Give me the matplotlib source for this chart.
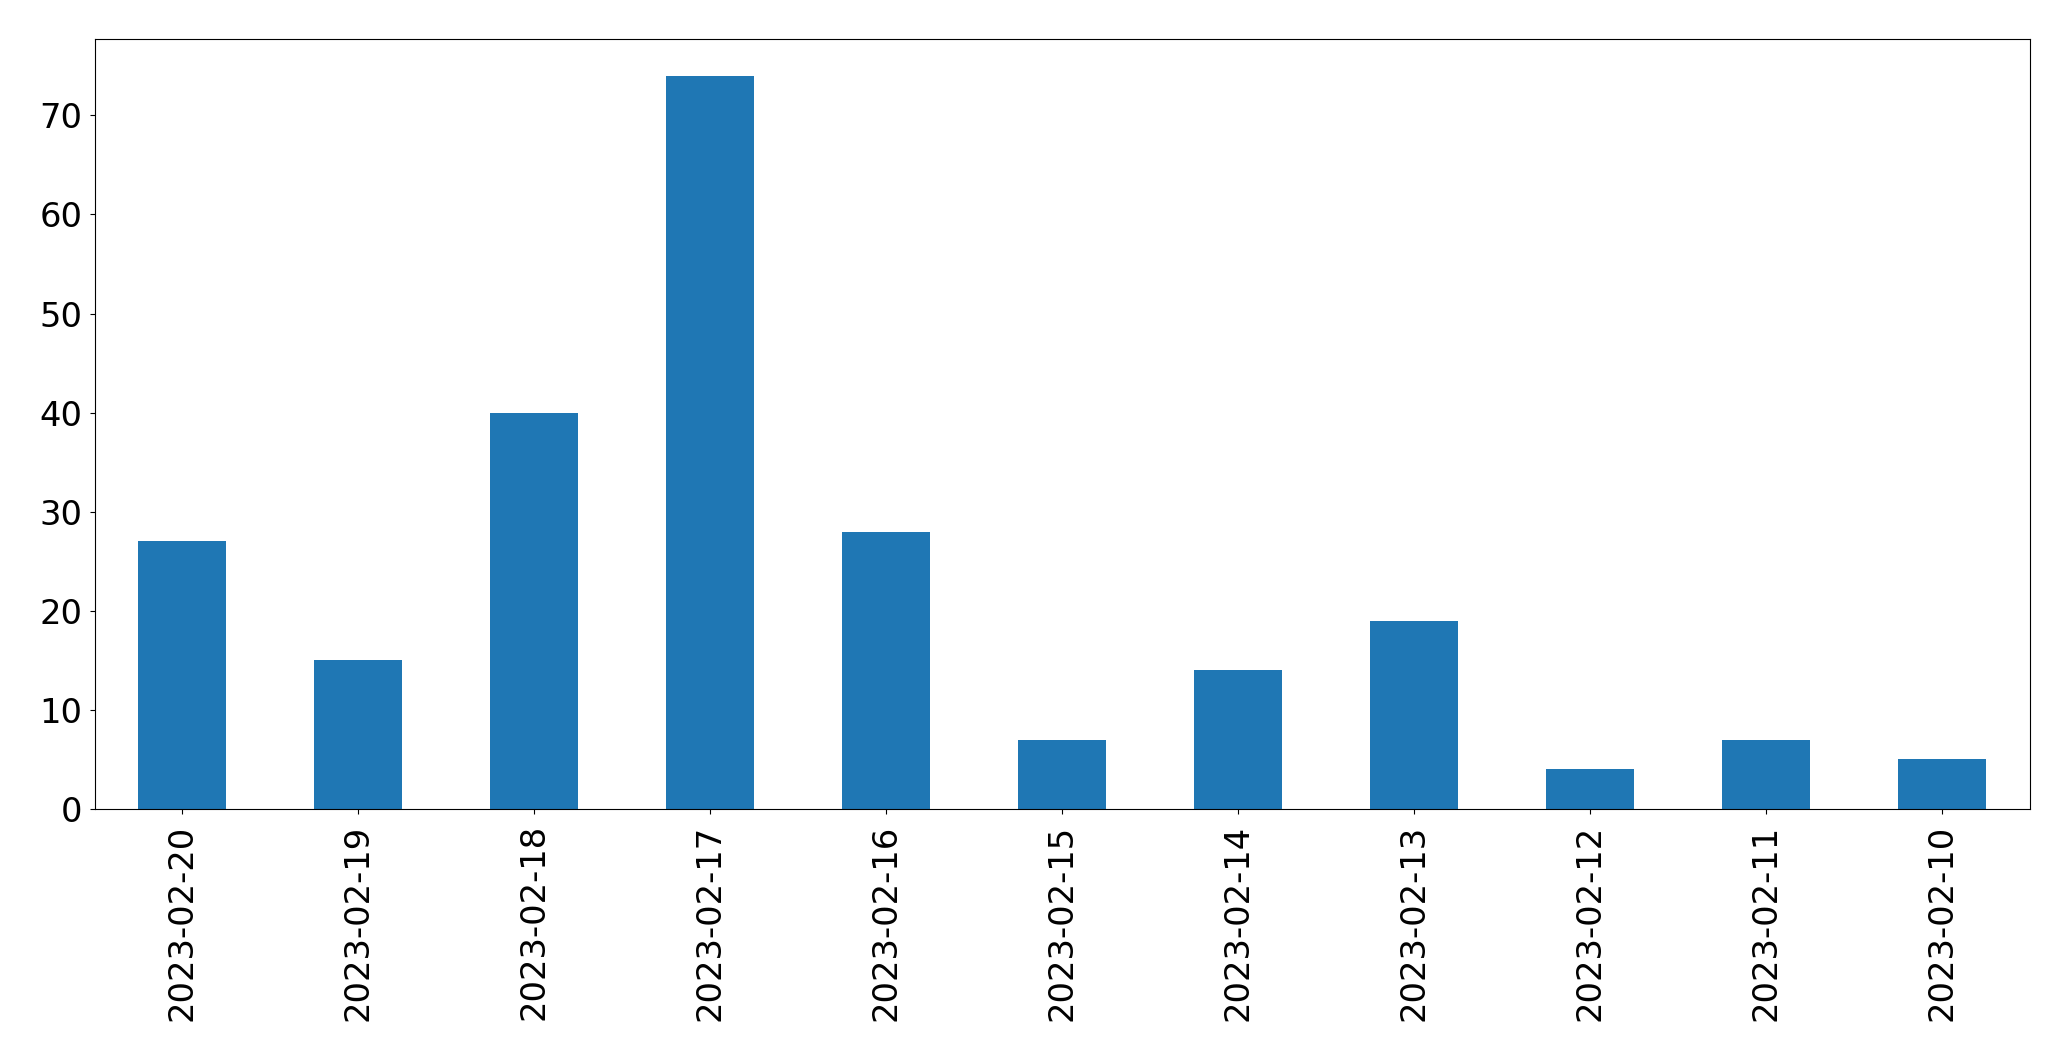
import matplotlib
matplotlib.use("Agg")
import matplotlib.pyplot as plt

dates = ["2023-02-20", "2023-02-19", "2023-02-18", "2023-02-17", "2023-02-16",
         "2023-02-15", "2023-02-14", "2023-02-13", "2023-02-12", "2023-02-11",
         "2023-02-10"]
counts = [27, 15, 40, 74, 28, 7, 14, 19, 4, 7, 5]

fig = plt.figure(figsize=(20.71, 10.61), dpi=100)
ax = fig.add_axes([94.5/2071, 1 - 809/1061, (2030-94.5)/2071, (809-39)/1061])
x = range(len(dates))
ax.bar(x, counts, width=0.5, color="#1f77b4")
ax.set_xticks(list(x))
ax.set_xticklabels(dates, rotation=90, fontsize=24.3)
ax.tick_params(axis="y", labelsize=24.3, pad=5)
ax.tick_params(axis="x", pad=7.5)
ax.set_xlim(-0.5, len(dates) - 0.5)
ax.set_ylim(0, 77.7)
fig.savefig("out.png", dpi=100)
